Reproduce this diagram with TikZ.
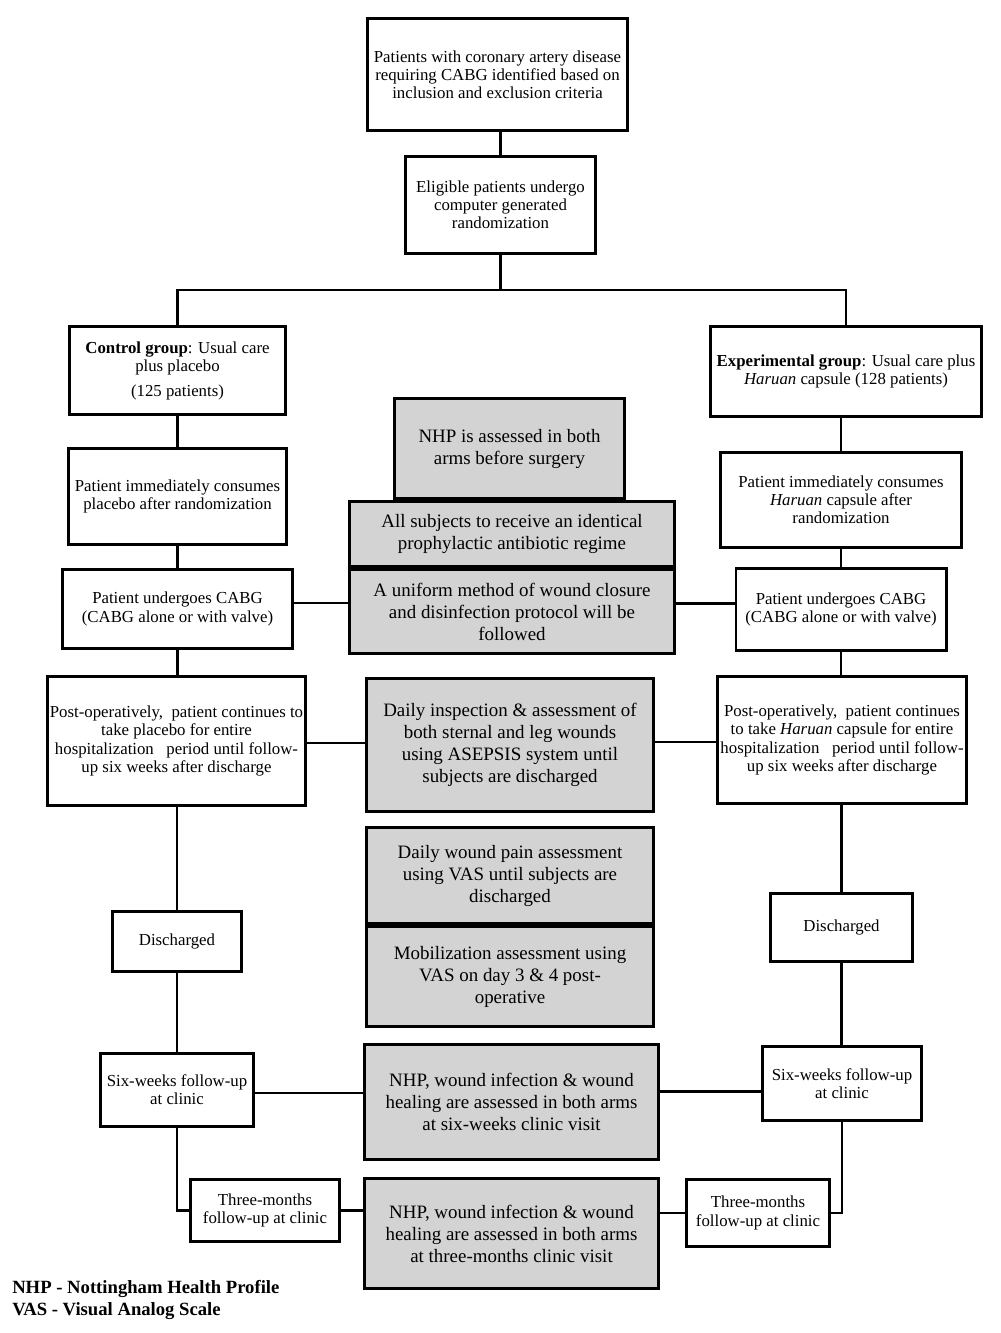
\documentclass[tikz,border=0pt]{standalone}
\usepackage{fontspec}
\setmainfont{Liberation Serif}
\definecolor{boxgray}{RGB}{211,211,211}
\begin{document}
\begin{tikzpicture}[x=0.75pt,y=-0.75pt,
  wbox/.style={draw, line width=2.2pt, fill=white, align=center, inner sep=0pt, font=\fontsize{12.6}{13.6}\selectfont},
  gbox/.style={wbox, fill=boxgray, font=\fontsize{14.2}{16.5}\selectfont},
  conn/.style={line width=1.6pt},
  sz/.style 2 args={minimum width=#1*0.75pt-2.2pt, minimum height=#2*0.75pt-2.2pt}]
\useasboundingbox[fill=white] (0,0) rectangle (1000,1333);

% centre column
\node[wbox, sz={263}{115}] (top) at (497.5,74.5) {Patients with coronary artery disease\\requiring CABG identified based on\\inclusion and exclusion criteria};
\node[wbox, sz={193}{100}] (rand) at (500.5,205) {Eligible patients undergo\\computer generated\\randomization};

\node[gbox, sz={233}{103}] (nhppre) at (509.5,448.5) {NHP is assessed in both\\arms before surgery};
\node[gbox, sz={328}{68}] (anti) at (512,534) {All subjects to receive an identical\\prophylactic antibiotic regime};
\node[gbox, sz={328}{87}] (unif) at (512,611.5) {A uniform method of wound closure\\and disinfection protocol will be\\followed};
\node[gbox, sz={290}{136}] (insp) at (510,745) {Daily inspection \& assessment of\\both sternal and leg wounds\\using ASEPSIS system until\\subjects are discharged};
\node[gbox, sz={290}{99}] (pain) at (510,875.5) {Daily wound pain assessment\\using VAS until subjects are\\discharged};
\node[gbox, sz={290}{103}] (mob) at (510,976.5) {Mobilization assessment using\\VAS on day 3 \& 4 post-\\operative};
\node[gbox, sz={297}{118}] (nhpsix) at (511.5,1102) {NHP, wound infection \& wound\\healing are assessed in both arms\\at six-weeks clinic visit};
\node[gbox, sz={297}{113}] (nhpthree) at (511.5,1233.5) {NHP, wound infection \& wound\\healing are assessed in both arms\\at three-months clinic visit};

% left column
\node[wbox, sz={219}{91}] (ctrl) at (177.5,370.5) {\textbf{Control group}: Usual care\\plus placebo\\[5pt](125 patients)};
\node[wbox, sz={221}{99}] (lcons) at (177.5,496.5) {Patient immediately consumes\\placebo after randomization};
\node[wbox, sz={233}{82}] (lcabg) at (177.5,609) {Patient undergoes CABG\\(CABG alone or with valve)};
\node[wbox, sz={261}{132}] (lpost) at (176.5,741) {Post-operatively,\ \ patient continues to\\take placebo for entire\\hospitalization\ \ \ period until follow-\\up six weeks after discharge};
\node[wbox, sz={132}{63}] (ldis) at (177,941.5) {Discharged};
\node[wbox, sz={156}{76}] (lsix) at (177,1090) {Six-weeks follow-up\\at clinic};
\node[wbox, sz={152}{65}] (lthree) at (265,1210.5) {Three-months\\follow-up at clinic};

% right column
\node[wbox, sz={274}{93}] (exp) at (846,371.5) {\textbf{Experimental group}: Usual care plus\\\textit{Haruan} capsule (128 patients)};
\node[wbox, sz={244}{98}] (rcons) at (841,500) {Patient immediately consumes\\\textit{Haruan} capsule after\\randomization};
\node[wbox, sz={213}{85}] (rcabg) at (841,609.5) {Patient undergoes CABG\\(CABG alone or with valve)};
\node[wbox, sz={252}{130}] (rpost) at (842,740) {Post-operatively,\ \ patient continues\\to take \textit{Haruan} capsule for entire\\hospitalization\ \ \ period until follow-\\up six weeks after discharge};
\node[wbox, sz={145}{71}] (rdis) at (841.5,927.5) {Discharged};
\node[wbox, sz={162}{77}] (rsix) at (842,1083.5) {Six-weeks follow-up\\at clinic};
\node[wbox, sz={146}{70}] (rthree) at (758,1213) {Three-months\\follow-up at clinic};

% legend
\node[anchor=north west, align=left, inner sep=0pt, font=\fontsize{14}{16.5}\selectfont\bfseries] (legend) at (12,1280) {NHP - Nottingham Health Profile\\VAS - Visual Analog Scale};

% connectors
\coordinate (j) at (500,290);
\draw[conn] (rand.north) -- (rand.north |- top.south);
\draw[conn] (rand.south) -- (rand.south |- j);
\draw[conn] (ctrl.north) -- (ctrl.north |- j) -- (exp.north |- j) -- (exp.north);

\draw[conn] (lcons.north) -- (lcons.north |- ctrl.south);
\draw[conn] (lcons.south) -- (lcons.south |- lcabg.north);
\draw[conn] (lcabg.south) -- (lcabg.south |- lpost.north);
\draw[conn] (ldis.north) -- (ldis.north |- lpost.south);
\draw[conn] (ldis.south) -- (ldis.south |- lsix.north);
\draw[conn] (lsix.south) |- (lthree.west);

\draw[conn] (rcons.north) -- (rcons.north |- exp.south);
\draw[conn] (rcons.south) -- (rcons.south |- rcabg.north);
\draw[conn] (rcabg.south) -- (rcabg.south |- rpost.north);
\draw[conn] (rdis.north) -- (rdis.north |- rpost.south);
\draw[conn] (rdis.south) -- (rdis.south |- rsix.north);
\draw[conn] (rsix.south) |- (rthree.east);

\draw[conn] ([yshift=4.5pt]lcabg.east) -- ([yshift=4.5pt]lcabg.east -| unif.west);
\draw[conn] ([yshift=4.5pt]rcabg.west) -- ([yshift=4.5pt]rcabg.west -| unif.east);
\draw[conn] ([yshift=-1.5pt]lpost.east) -- ([yshift=-1.5pt]lpost.east -| insp.west);
\draw[conn] ([yshift=-1.5pt]rpost.west) -- ([yshift=-1.5pt]rpost.west -| insp.east);
\draw[conn] ([yshift=-2pt]lsix.east) -- ([yshift=-2pt]lsix.east -| nhpsix.west);
\draw[conn] ([yshift=-6pt]rsix.west) -- ([yshift=-6pt]rsix.west -| nhpsix.east);
\draw[conn] (lthree.east) -- (lthree.east -| nhpthree.west);
\draw[conn] (rthree.west) -- (rthree.west -| nhpthree.east);
\end{tikzpicture}
\end{document}
